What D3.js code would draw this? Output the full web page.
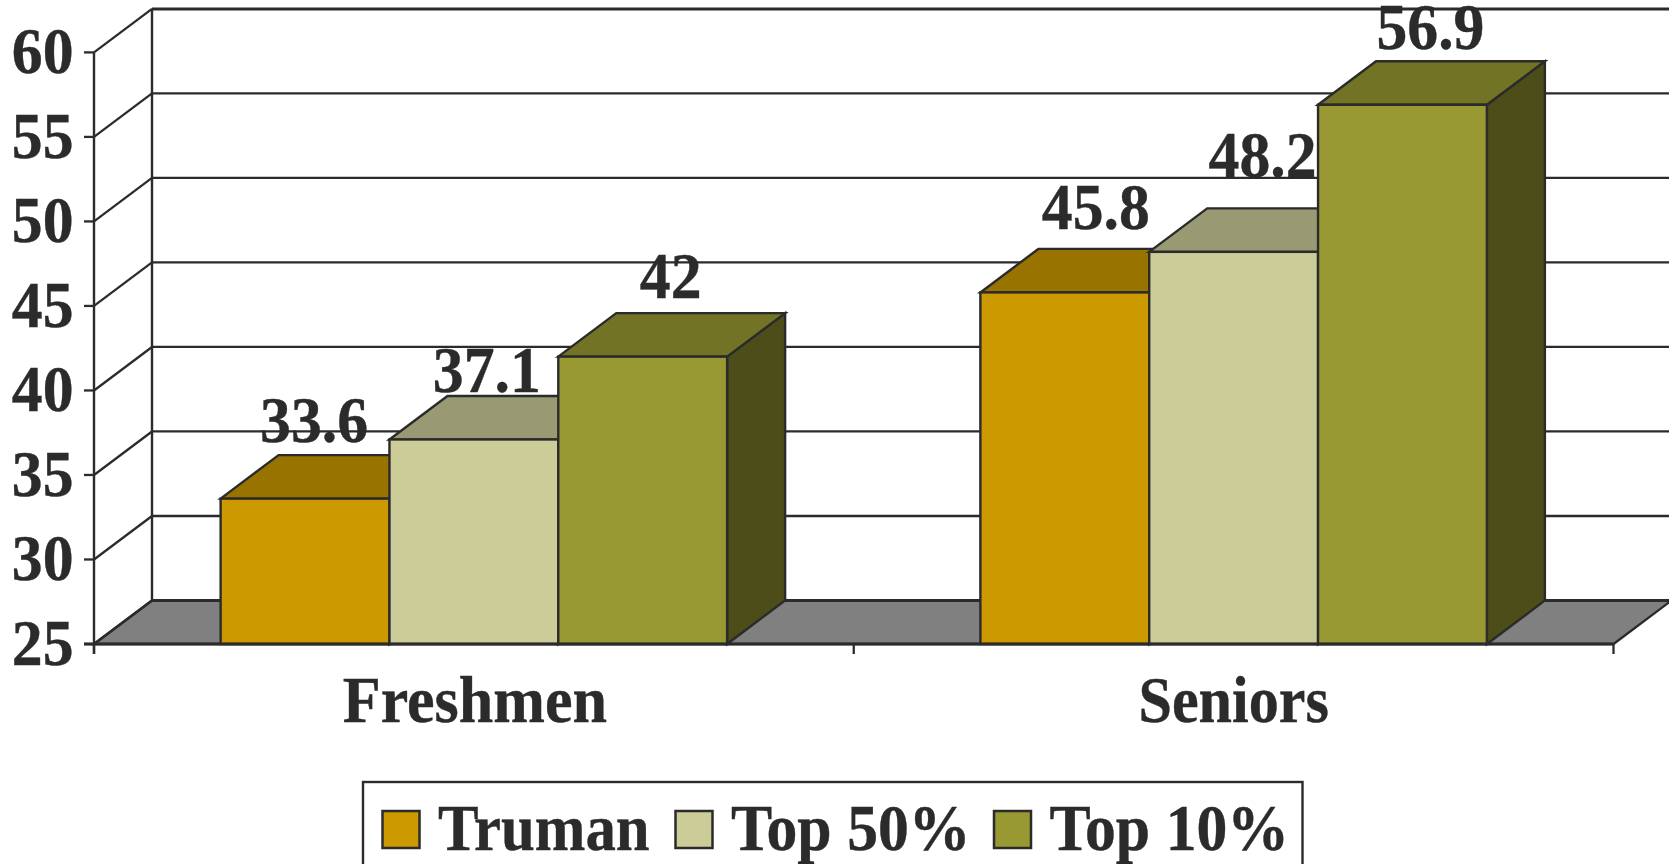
<!DOCTYPE html>
<html><head><meta charset="utf-8">
<script src="https://cdn.jsdelivr.net/npm/d3@7"></script>
<style>html,body{margin:0;padding:0;background:#fff;overflow:hidden}svg{display:block}text{font-family:"Liberation Serif",serif;font-weight:bold;fill:#2b2b2b}</style>
</head><body><svg id="c" width="1669" height="864"></svg>
<script>
const categories = ["Freshmen", "Seniors"];
const seriesNames = ["Truman", "Top 50%", "Top 10%"];
const truman = [33.6, 45.8];
const top50 = [37.1, 48.2];
const top10 = [42, 56.9];
const yTicks = [25, 30, 35, 40, 45, 50, 55, 60];
const seriesValues = [truman, top50, top10];

const frontColors = ["#CC9900", "#CCCC99", "#999933"];
const topColors = ["#997300", "#999973", "#737326"];
const sideColors = ["#664D00", "#66664D", "#4D4D1A"];
const labelNudgeX = [[9, 13, 28], [31, 29, 28]];
const labelBaseY = [[441.5, 392, 298], [229, 177, 48.5]];
const categoryScaleX = [0.955, 0.925];
const categoryNudgeX = [1, 0];
const legendScaleX = [0.935, 0.95, 0.95];
const INK = "#2b2b2b", FLOOR = "#808080";
const DX = 58, DY = 43.5;

const svg = d3.select("#c");
const y = d3.scaleLinear().domain([25, 60]).range([644, 52.4]);
const x0 = d3.scaleBand().domain(categories).range([94, 1613.5]);
const x1 = d3.scaleBand().domain(seriesNames).range([0, x0.bandwidth()]).paddingInner(0).paddingOuter(0.75);
const poly = pts => pts.map(p => p.join(",")).join(" ");
const L = x0.range()[0], R = x0.range()[1];

// stretched serif text: taller than wide, as in the picture
function label(parent, px, py, str, anchor, size, sx) {
  return parent.append("text")
    .attr("transform", `translate(${px},${py}) scale(${sx},1)`)
    .attr("text-anchor", anchor).attr("font-size", size)
    .attr("stroke", INK).attr("stroke-width", 0.4).text(str);
}

const g = svg.append("g").attr("stroke", INK).attr("stroke-linejoin", "miter");

// floor
g.append("polygon").attr("points", poly([[L, y(25)], [L + DX, y(25) - DY], [R + DX, y(25) - DY], [R, y(25)]]))
  .attr("fill", FLOOR).attr("stroke-width", 2.4);
g.append("line").attr("x1", L + DX).attr("x2", R + DX).attr("y1", y(25) - DY).attr("y2", y(25) - DY).attr("stroke-width", 3);

// back wall & side wall grid
yTicks.forEach(t => {
  if (t > 25) g.append("line").attr("x1", L + DX).attr("x2", R + DX).attr("y1", y(t) - DY).attr("y2", y(t) - DY).attr("stroke-width", t === 60 ? 3 : 2.3);
  g.append("line").attr("x1", L).attr("y1", y(t)).attr("x2", L + DX).attr("y2", y(t) - DY).attr("stroke-width", 2.3);
  g.append("line").attr("x1", L - 10).attr("x2", L).attr("y1", y(t)).attr("y2", y(t)).attr("stroke-width", 2.3);
});
g.append("line").attr("x1", L + DX).attr("x2", L + DX).attr("y1", y(60) - DY).attr("y2", y(25) - DY).attr("stroke-width", 2.4);
g.append("line").attr("x1", L).attr("x2", L).attr("y1", y(60)).attr("y2", y(25) + 10).attr("stroke-width", 2.4);

// bars
categories.forEach((c, ci) => {
  seriesNames.forEach((s, si) => {
    const v = seriesValues[si][ci];
    const xa = x0(c) + x1(s), xb = xa + x1.bandwidth(), yt = y(v), yb = y(25);
    const b = g.append("g").attr("stroke-width", 2.4);
    b.append("polygon").attr("points", poly([[xb, yt], [xb + DX, yt - DY], [xb + DX, yb - DY], [xb, yb]])).attr("fill", sideColors[si]);
    b.append("polygon").attr("points", poly([[xa, yt], [xa + DX, yt - DY], [xb + DX, yt - DY], [xb, yt]])).attr("fill", topColors[si]);
    b.append("rect").attr("x", xa).attr("y", yt).attr("width", xb - xa).attr("height", yb - yt).attr("fill", frontColors[si]);
  });
});

// front axis line & ticks
g.append("line").attr("x1", L - 10).attr("x2", R).attr("y1", y(25)).attr("y2", y(25)).attr("stroke-width", 3);
[L, L + x0.step(), R].forEach(t => g.append("line").attr("x1", t).attr("x2", t).attr("y1", y(25)).attr("y2", y(25) + 10).attr("stroke-width", 2.3));

// y labels
const yg = svg.append("g");
yTicks.forEach(t => label(yg, 73.5, y(t) + 21, t, "end", 65, 0.95));

// category labels
const cg = svg.append("g");
categories.forEach((c, i) => label(cg, x0(c) + x0.bandwidth() / 2 + categoryNudgeX[i], 722, c, "middle", 65, categoryScaleX[i]));

// data labels
const dg = svg.append("g");
categories.forEach((c, ci) => seriesNames.forEach((s, si) => {
  label(dg, x0(c) + x1(s) + x1.bandwidth() / 2 + labelNudgeX[ci][si], labelBaseY[ci][si], seriesValues[si][ci], "middle", 65, 0.95);
}));

// legend
const lg = svg.append("g");
lg.append("rect").attr("x", 363).attr("y", 782).attr("width", 939.5).attr("height", 100).attr("fill", "#fff").attr("stroke", INK).attr("stroke-width", 2.4);
const legendX = d3.scaleOrdinal().domain(seriesNames).range([382.5, 675.5, 994]);
seriesNames.forEach((s, i) => {
  lg.append("rect").attr("x", legendX(s)).attr("y", 811).attr("width", 37).attr("height", 37).attr("fill", frontColors[i]).attr("stroke", INK).attr("stroke-width", 2.5);
  label(lg, legendX(s) + 55.5, 850, s, "start", 65, legendScaleX[i]);
});
</script></body></html>
